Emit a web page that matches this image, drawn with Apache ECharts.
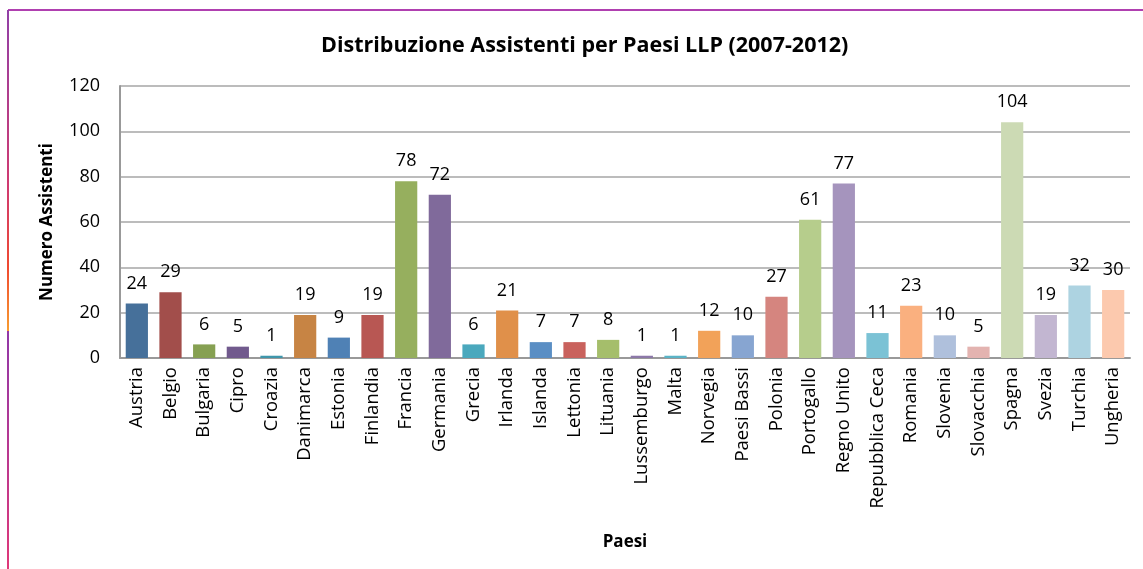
<!DOCTYPE html>
<html>
<head>
<meta charset="utf-8">
<script src="https://cdn.jsdelivr.net/npm/echarts@6/dist/echarts.min.js"></script>
<style>html,body{margin:0;padding:0;background:#fff}#c{width:1143px;height:569px}</style>
</head>
<body>
<div id="c"></div>
<script>
const categories = ["Austria","Belgio","Bulgaria","Cipro","Croazia","Danimarca","Estonia","Finlandia","Francia","Germania","Grecia","Irlanda","Islanda","Lettonia","Lituania","Lussemburgo","Malta","Norvegia","Paesi Bassi","Polonia","Portogallo","Regno Unito","Repubblica Ceca","Romania","Slovenia","Slovacchia","Spagna","Svezia","Turchia","Ungheria"];
const values = [24,29,6,5,1,19,9,19,78,72,6,21,7,7,8,1,1,12,10,27,61,77,11,23,10,5,104,19,32,30];
const barColors = ["#46709a","#a24e4b","#86a052","#715a8d","#3f96ab","#c78444","#4f81b5","#b85753","#96af5e","#806a9b","#4aa8bd","#e0904a","#5a8ec4","#c9625d","#a5be6b","#8c78a8","#5ab3c6","#f2a259","#87a5d1","#d5857f","#b6cd8c","#a594bd","#7bc2d5","#fab07f","#afc0dc","#e3b3b0","#ccdab4","#c2b6d1","#add3e1","#fcc9ae"];
const yTicks = {min:0, max:120, interval:20};
const font = "'Open Sans', 'Liberation Sans', sans-serif";

const chart = echarts.init(document.getElementById('c'));
chart.setOption({
  animation:false,
  backgroundColor:'#fff',
  title:{text:'Distribuzione Assistenti per Paesi LLP (2007-2012)', left:316, top:30,
    textStyle:{fontFamily:font, fontSize:21.5, fontWeight:'bold', color:'#000'}},
  grid:{left:120, right:13, top:86, bottom:211, containLabel:false},
  xAxis:{type:'category', data:categories,
    name:'Paesi', nameLocation:'middle', nameGap:176,
    nameTextStyle:{fontFamily:font, fontSize:17, fontWeight:'bold', color:'#000'},
    axisLine:{lineStyle:{color:'#999', width:2}},
    axisTick:{show:false},
    axisLabel:{rotate:90, interval:0, margin:9, fontFamily:font, fontSize:18.5, color:'#000'}},
  yAxis:{type:'value', min:yTicks.min, max:yTicks.max, interval:yTicks.interval,
    name:'Numero Assistenti', nameLocation:'middle', nameGap:64, nameRotate:90,
    nameTextStyle:{fontFamily:font, fontSize:17, fontWeight:'bold', color:'#000'},
    axisLine:{show:true, lineStyle:{color:'#999', width:2}},
    axisTick:{show:false},
    splitLine:{lineStyle:{color:'#a6a6a6', width:1.5}},
    axisLabel:{margin:20, fontFamily:font, fontSize:18, color:'#000'}},
  series:[{type:'bar', data:values.map((v,i)=>({value:v, itemStyle:{color:barColors[i]}})),
    barCategoryGap:'34%',
    label:{show:true, position:'top', distance:11, fontFamily:font, fontSize:18, color:'#000'}}],
  graphic:[
    {type:'line', shape:{x1:8, y1:10, x2:1143, y2:10}, style:{stroke:'#b040b0', lineWidth:2}},
    {type:'line', shape:{x1:8, y1:10, x2:8, y2:331},
      style:{lineWidth:2, stroke:new echarts.graphic.LinearGradient(0,0,0,1,[{offset:0,color:'#9040a8'},{offset:0.55,color:'#d03a70'},{offset:0.8,color:'#f04a30'},{offset:1,color:'#f8a030'}])}},
    {type:'line', shape:{x1:8, y1:331, x2:8, y2:569},
      style:{lineWidth:2, stroke:new echarts.graphic.LinearGradient(0,0,0,1,[{offset:0,color:'#9038a8'},{offset:1,color:'#e03878'}])}}
  ]
});
</script>
</body>
</html>
